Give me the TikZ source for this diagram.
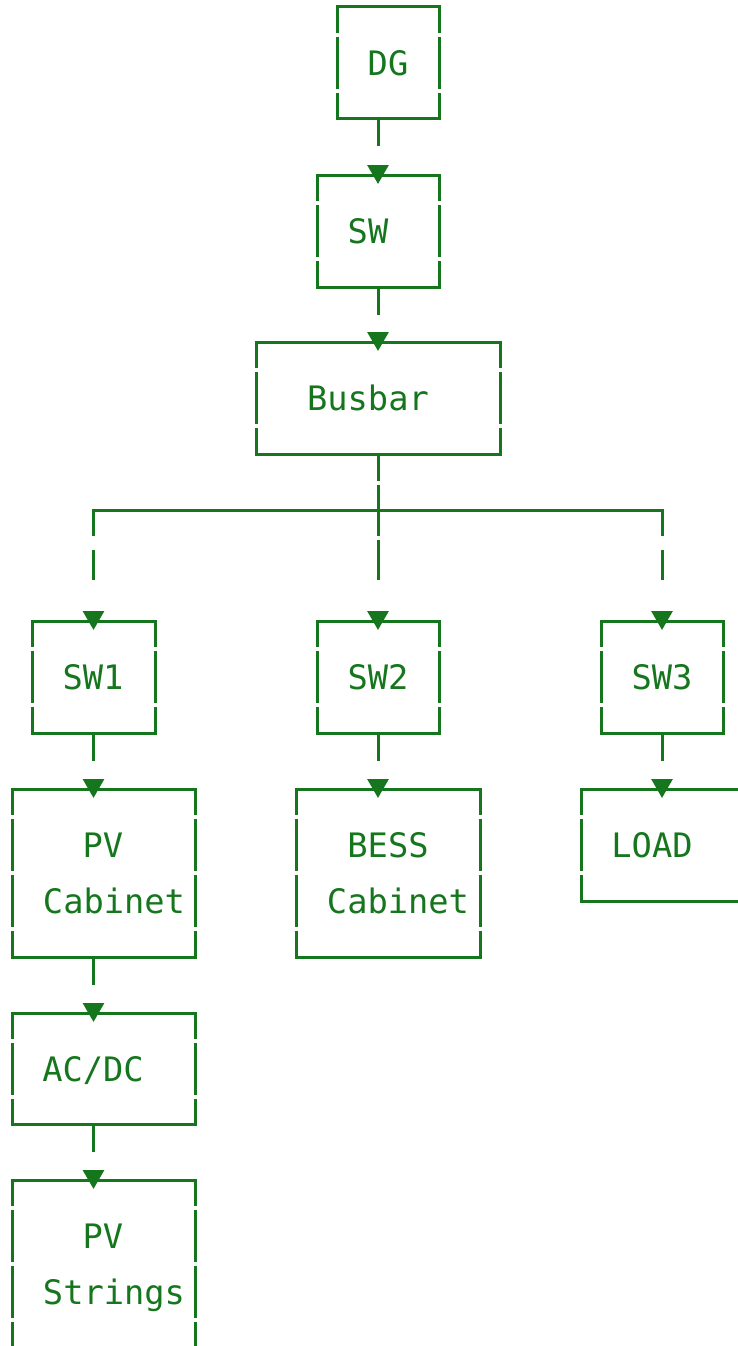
\documentclass[tikz,border=0pt]{standalone}
\usepackage{fontspec}
\newfontfamily\asciifont{DejaVu Sans Mono}
\usetikzlibrary{arrows.meta}
\definecolor{wire}{RGB}{22,118,30}
\begin{document}
\begin{tikzpicture}[x=1pt, y=-1pt, line width=3pt, color=wire, >={Triangle[length=19pt,width=21pt]}]
	\tikzset{
		box/.style={inner sep=0pt, outer sep=0pt},
		lbl/.style={anchor=base, inner sep=0pt, font=\asciifont\fontsize{33.7}{40}\selectfont},
		edge/.style={line cap=rect},
		side/.style={dash pattern=on 52pt off 4pt, dash phase=26pt},
		link/.style={->, dash pattern=on 28pt off 300pt, shorten >=-9pt},
		trunk/.style={->, dash pattern=on 27pt off 4pt on 51pt off 4pt on 40pt off 300pt, shorten >=-9pt},
		branch/.style={->, dash pattern=on 26pt off 14pt on 30pt off 300pt, shorten >=-9pt}
	}
	\useasboundingbox (0,0) rectangle (737,1346);
	% boxes: name/x/y/width/height
	\foreach \n/\x/\y/\w/\h in {DG/388/62.5/102/111, SW/378/231/122/112, Busbar/378/398/244/112,
		SW1/93.5/677/123/112, SW2/378/677/122/112, SW3/662/677/122/112,
		PVC/103.5/873/183/168, BESS/388/873/184/168, LOAD/673/845/184/112,
		ACDC/103.5/1068.5/183/111, PVS/103.5/1264/183/168}
		\node[box, minimum width=\w, minimum height=\h] (\n) at (\x,\y) {};
	\foreach \n in {DG,SW,Busbar,SW1,SW2,SW3,PVC,BESS,LOAD,ACDC,PVS}{
		\draw[edge] (\n.north west)--(\n.north east) (\n.south west)--(\n.south east);
		\draw[side] (\n.north west)--(\n.south west) (\n.north east)--(\n.south east);
	}
	\node[lbl] (DG-t) at (388,75) {DG};
	\node[lbl] (SW-t) at (368,243) {SW};
	\node[lbl] (Busbar-t) at (368,410) {Busbar};
	\node[lbl] (SW1-t) at (93,689) {SW1};
	\node[lbl] (SW2-t) at (378,689) {SW2};
	\node[lbl] (SW3-t) at (662,689) {SW3};
	\node[lbl] (PVC-t1) at (103,857) {PV};
	\node[lbl] (PVC-t2) at (114,913) {Cabinet};
	\node[lbl] (BESS-t1) at (388,857) {BESS};
	\node[lbl] (BESS-t2) at (398,913) {Cabinet};
	\node[lbl] (LOAD-t) at (652,857) {LOAD};
	\node[lbl] (ACDC-t) at (93,1081) {AC/DC};
	\node[lbl] (PVS-t1) at (103,1248) {PV};
	\node[lbl] (PVS-t2) at (114,1304) {Strings};
	% connectors
	\coordinate (bus) at (378,510);
	\draw[link] (DG.south -| SW.north)--(SW.north);
	\draw[link] (SW.south)--(Busbar.north);
	\draw[trunk] (Busbar.south)--(SW2.north);
	\draw[edge] (SW1.north |- bus)--(SW3.north |- bus);
	\draw[branch] (SW1.north |- bus)--(SW1.north);
	\draw[branch] (SW3.north |- bus)--(SW3.north);
	\draw[link] (SW1.south)--(SW1.south |- PVC.north);
	\draw[link] (SW2.south)--(SW2.south |- BESS.north);
	\draw[link] (SW3.south)--(SW3.south |- LOAD.north);
	\draw[link] (PVC.south -| SW1.south)--(SW1.south |- ACDC.north);
	\draw[link] (ACDC.south -| SW1.south)--(SW1.south |- PVS.north);
\end{tikzpicture}
\end{document}
